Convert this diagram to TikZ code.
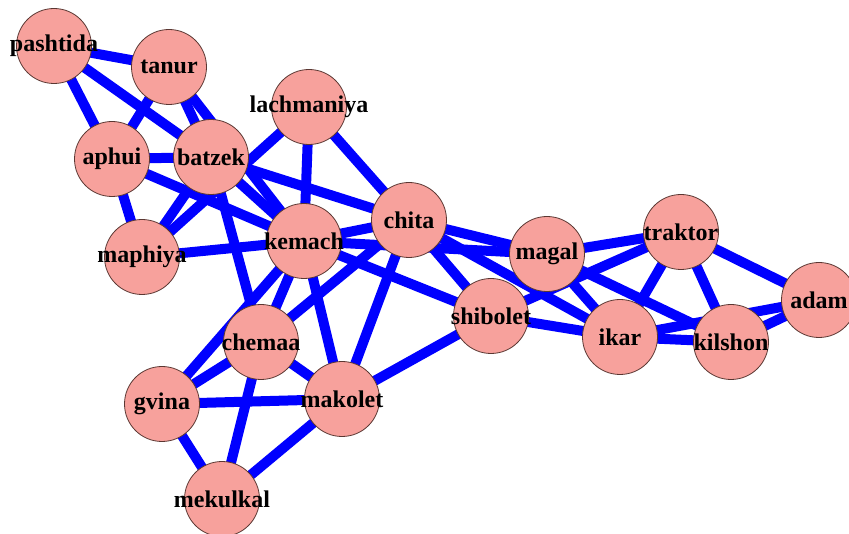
\documentclass[tikz,border=0pt]{standalone}
\usepackage{fontspec}
\setmainfont{Liberation Serif}
\usetikzlibrary{backgrounds}
\definecolor{nodefill}{RGB}{247,161,156}
\definecolor{nodeline}{RGB}{90,55,50}
\definecolor{edgeblue}{RGB}{0,0,255}
\newcommand{\vlabel}[1]{\makebox[0pt]{#1}}
\begin{document}
\begin{tikzpicture}[x=1pt,y=-1pt,
  vtx/.style={circle,fill=nodefill,draw=nodeline,line width=0.8pt,minimum size=75pt,inner sep=0pt,
    font=\fontsize{24}{24}\selectfont\bfseries},
  edge/.style={draw=edgeblue,line width=10pt}]
\useasboundingbox (0,0) rectangle (849,534);
\begin{scope}
\clip (0,0) rectangle (849,534);
\node[vtx] (pashtida) at (54,46) {\vlabel{pashtida}};
\node[vtx] (tanur) at (169,67) {\vlabel{tanur}};
\node[vtx] (lachmaniya) at (309,107) {\vlabel{lachmaniya}};
\node[vtx] (aphui) at (112,159) {\vlabel{aphui}};
\node[vtx] (batzek) at (211,157) {\vlabel{batzek}};
\node[vtx] (kemach) at (304,241) {\vlabel{kemach}};
\node[vtx] (chita) at (409,220) {\vlabel{chita}};
\node[vtx] (maphiya) at (142,257) {\vlabel{maphiya}};
\node[vtx] (magal) at (547,254) {\vlabel{magal}};
\node[vtx] (traktor) at (681,232) {\vlabel{traktor}};
\node[vtx] (adam) at (819,300) {\vlabel{adam}};
\node[vtx] (shibolet) at (491,316) {\vlabel{shibolet}};
\node[vtx] (ikar) at (620,337) {\vlabel{ikar}};
\node[vtx] (kilshon) at (731,342) {\vlabel{kilshon}};
\node[vtx] (chemaa) at (261,342) {\vlabel{chemaa}};
\node[vtx] (gvina) at (162,404) {\vlabel{gvina}};
\node[vtx] (makolet) at (342,399) {\vlabel{makolet}};
\node[vtx] (mekulkal) at (222,499) {\vlabel{mekulkal}};
\begin{pgfonlayer}{background}
\fill[white] (0,0) rectangle (849,534);
\foreach \a/\b in {pashtida/tanur,pashtida/aphui,pashtida/batzek,tanur/aphui,tanur/batzek,tanur/kemach,
  aphui/batzek,aphui/maphiya,aphui/kemach,batzek/maphiya,maphiya/lachmaniya,batzek/chita,batzek/kemach,
  lachmaniya/kemach,lachmaniya/chita,kemach/maphiya,kemach/chita,kemach/magal,kemach/shibolet,
  kemach/chemaa,kemach/gvina,kemach/makolet,batzek/chemaa,chita/chemaa,chita/makolet,chita/shibolet,
  chita/magal,chita/ikar,chemaa/gvina,chemaa/makolet,chemaa/mekulkal,gvina/makolet,gvina/mekulkal,
  makolet/mekulkal,makolet/shibolet,shibolet/ikar,shibolet/traktor,magal/traktor,magal/ikar,
  magal/kilshon,ikar/traktor,ikar/kilshon,ikar/adam,traktor/kilshon,traktor/adam,kilshon/adam}
  \draw[edge] (\a.center) -- (\b.center);
\end{pgfonlayer}
\end{scope}
\end{tikzpicture}
\end{document}
